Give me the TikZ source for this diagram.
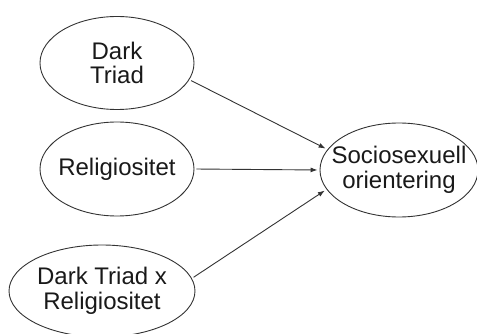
\documentclass[tikz,border=0pt]{standalone}
\usepackage{fontspec}
\setmainfont{Liberation Sans}
\usetikzlibrary{shapes.geometric,arrows.meta}

\tikzset{
  var/.style = {ellipse, draw=black!80, line width=0.9pt, inner sep=0pt, inner xsep=-20pt,
    align=center, text=black!90, font=\fontsize{24}{24.5}\selectfont},
  effect/.style = {draw=black!80, line width=0.9pt, -{Latex[length=7pt,width=5pt]},
    shorten <=2pt, shorten >=2pt}
}

\begin{document}
\begin{tikzpicture}[x=1pt,y=-1pt]
  \useasboundingbox (0,0) rectangle (477,334);
  \node[var, minimum width=154pt, minimum height=93pt] (dt) at (117,63) {Dark\\Triad};
  \node[var, minimum width=154pt, minimum height=94pt] (rel) at (117,169) {Religiositet};
  \node[var, minimum width=186pt, minimum height=92pt] (dtxrel) at (102,291) {Dark Triad x\\Religiositet};
  \node[var, minimum width=158pt, minimum height=94pt] (soi) at (399,170) {Sociosexuell\\orientering};

  \draw[effect] (dt.-13) -- (soi.164);
  \draw[effect] (rel.east) -- (soi.west);
  \draw[effect] (dtxrel.8) -- (soi.-165);
\end{tikzpicture}
\end{document}
